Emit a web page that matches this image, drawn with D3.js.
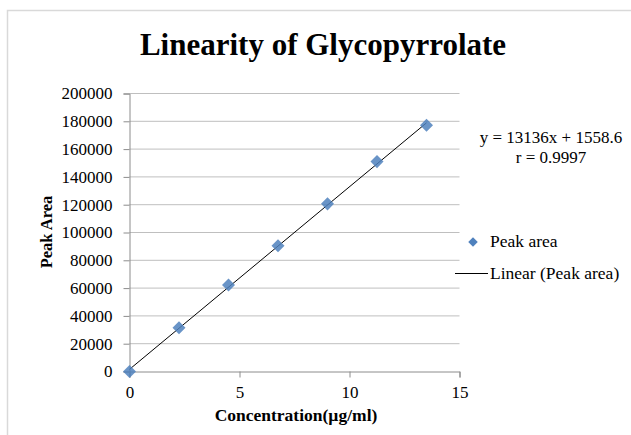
<!DOCTYPE html>
<html><head><meta charset="utf-8">
<script src="https://cdn.jsdelivr.net/npm/d3@7"></script>
<style>body{margin:0;background:#fff}svg{display:block}text{font-family:"Liberation Serif","Times New Roman",serif;fill:#000}</style>
</head><body><svg id="c" width="631" height="435"></svg>
<script>
const concentration = [0, 2.25, 4.5, 6.75, 9, 11.25, 13.5];
const peakArea = [0, 31500, 62300, 90500, 120600, 151000, 177100];
const xTicks = [0, 5, 10, 15];
const yTicks = [0, 20000, 40000, 60000, 80000, 100000, 120000, 140000, 160000, 180000, 200000];
const trendCoef = [13136, 1558.6]; // slope, intercept from the chart label
const trendRange = [0, 13.5];

const svg = d3.select("#c");
svg.append("rect").attr("x",7.5).attr("y",10.5).attr("width",640).attr("height",440)
  .attr("fill","none").attr("stroke","#d9d9d9").attr("stroke-width",1.5);

const x = d3.scaleLinear().domain([0,15]).range([129.5,459.5]);
const y = d3.scaleLinear().domain([0,200000]).range([371.5,93.5]);

svg.append("g").selectAll("line").data(yTicks.filter(d=>d>0)).join("line")
  .attr("x1",x(0)).attr("x2",x(15)).attr("y1",d=>y(d)).attr("y2",d=>y(d))
  .attr("stroke","#bfbfbf").attr("stroke-width",1);

const ya = svg.append("g").attr("transform",`translate(${x(0)},0)`)
  .call(d3.axisLeft(y).tickValues(yTicks).tickSize(6).tickPadding(11).tickFormat(d3.format("d")));
ya.select(".domain").attr("stroke","#8c8c8c");
ya.selectAll(".tick line").attr("stroke","#8c8c8c");
ya.selectAll("text").attr("font-size",17).attr("font-family","Liberation Serif").attr("fill","#000");

const xa = svg.append("g").attr("transform",`translate(0,${y(0)})`)
  .call(d3.axisBottom(x).tickValues(xTicks).tickSize(6).tickPadding(8));
xa.select(".domain").attr("stroke","#8c8c8c");
xa.selectAll(".tick line").attr("stroke","#8c8c8c");
xa.selectAll("text").attr("font-size",17).attr("font-family","Liberation Serif").attr("fill","#000");

svg.append("line")
  .attr("x1",x(trendRange[0])).attr("y1",y(trendCoef[0]*trendRange[0]+trendCoef[1]))
  .attr("x2",x(trendRange[1])).attr("y2",y(trendCoef[0]*trendRange[1]+trendCoef[1]))
  .attr("stroke","#000").attr("stroke-width",1);

const diamond = d3.symbol().type(d3.symbolSquare).size(85);
svg.append("g").selectAll("path").data(concentration.map((c,i)=>[c,peakArea[i]])).join("path")
  .attr("d",diamond).attr("transform",d=>`translate(${x(d[0])},${y(d[1])}) rotate(45)`)
  .attr("fill","#4f81bd").attr("fill-opacity",0.85);

svg.append("text").attr("x",323).attr("y",55).attr("text-anchor","middle")
  .attr("font-size",31).attr("font-weight","bold").text("Linearity of Glycopyrrolate");

svg.append("text").attr("x",296).attr("y",421).attr("text-anchor","middle")
  .attr("font-size",17.5).attr("font-weight","bold").text("Concentration(µg/ml)");
svg.append("text").attr("transform","translate(52,232) rotate(-90)").attr("text-anchor","middle")
  .attr("font-size",16.5).attr("font-weight","bold").text("Peak Area");

svg.append("text").attr("x",551).attr("y",143).attr("text-anchor","middle")
  .attr("font-size",17).text("y = 13136x + 1558.6");
svg.append("text").attr("x",551).attr("y",163).attr("text-anchor","middle")
  .attr("font-size",17).text("r = 0.9997");

svg.append("path").attr("d",d3.symbol().type(d3.symbolSquare).size(45))
  .attr("transform","translate(473,242) rotate(45)").attr("fill","#4f81bd");
svg.append("text").attr("x",490).attr("y",247).attr("font-size",17.5).text("Peak area");
svg.append("line").attr("x1",455).attr("x2",488).attr("y1",273.5).attr("y2",273.5).attr("stroke","#000");
svg.append("text").attr("x",490).attr("y",279).attr("font-size",17.5).text("Linear (Peak area)");
</script></body></html>
